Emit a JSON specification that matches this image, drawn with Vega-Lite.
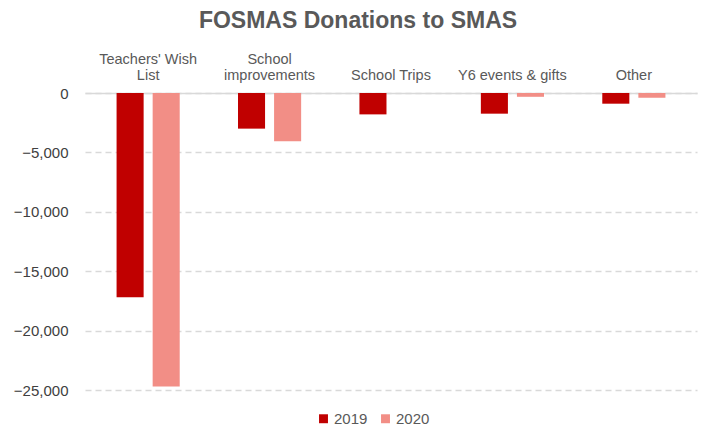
{
  "$schema": "https://vega.github.io/schema/vega-lite/v6.json",
  "autosize": "none",
  "width": 612,
  "height": 297,
  "padding": {"left": 85, "top": 93, "right": 20, "bottom": 38},
  "background": "white",
  "title": {
    "text": "FOSMAS Donations to SMAS",
    "font": "Liberation Sans",
    "fontSize": 23,
    "fontWeight": "bold",
    "color": "#595959",
    "anchor": "middle",
    "dx": -33,
    "offset": 18
  },
  "data": {
    "values": [
      {"category": "Teachers' Wish List", "year": "2019", "amount": -17200},
      {"category": "Teachers' Wish List", "year": "2020", "amount": -24700},
      {"category": "School improvements", "year": "2019", "amount": -3000},
      {"category": "School improvements", "year": "2020", "amount": -4070},
      {"category": "School Trips", "year": "2019", "amount": -1800},
      {"category": "Y6 events & gifts", "year": "2019", "amount": -1740},
      {"category": "Y6 events & gifts", "year": "2020", "amount": -320},
      {"category": "Other", "year": "2019", "amount": -900},
      {"category": "Other", "year": "2020", "amount": -400}
    ]
  },
  "mark": {"type": "bar"},
  "encoding": {
    "x": {
      "field": "category",
      "type": "nominal",
      "sort": ["Teachers' Wish List", "School improvements", "School Trips", "Y6 events & gifts", "Other"],
      "scale": {"paddingInner": 0.48, "paddingOuter": 0.26},
      "axis": {
        "orient": "top",
        "title": null,
        "ticks": false,
        "labelAngle": 0,
        "labelFont": "Liberation Sans",
        "labelFontSize": 14.5,
        "labelColor": "#595959",
        "labelPadding": 27,
        "labelLineHeight": 16,
        "domainColor": "#d9d9d9",
        "domainWidth": 1.5,
        "labelExpr": "datum.label == \"Teachers' Wish List\" ? [\"Teachers' Wish\", \"List\"] : datum.label == 'School improvements' ? ['School', 'improvements'] : [' ', datum.label]"
      }
    },
    "xOffset": {
      "field": "year",
      "type": "nominal",
      "scale": {"paddingInner": 0.25}
    },
    "y": {
      "field": "amount",
      "type": "quantitative",
      "scale": {"domain": [-25000, 0], "nice": false},
      "axis": {
        "title": null,
        "values": [-25000, -20000, -15000, -10000, -5000, 0],
        "format": ",.0f",
        "domain": false,
        "ticks": false,
        "labelFont": "Liberation Sans",
        "labelFontSize": 15,
        "labelColor": "#404040",
        "labelPadding": 17,
        "gridColor": "#d9d9d9",
        "gridDash": [6, 4],
        "gridWidth": 1.5
      }
    },
    "color": {
      "field": "year",
      "type": "nominal",
      "scale": {"domain": ["2019", "2020"], "range": ["#C00000", "#F28E86"]},
      "legend": {
        "title": null,
        "orient": "none",
        "direction": "horizontal",
        "legendX": 231,
        "legendY": 318,
        "symbolType": "square",
        "symbolSize": 80,
        "symbolStrokeWidth": 0,
        "labelFont": "Liberation Sans",
        "labelFontSize": 15,
        "labelColor": "#595959",
        "labelOffset": 3,
        "columnPadding": 10
      }
    }
  },
  "config": {"view": {"stroke": null}}
}
